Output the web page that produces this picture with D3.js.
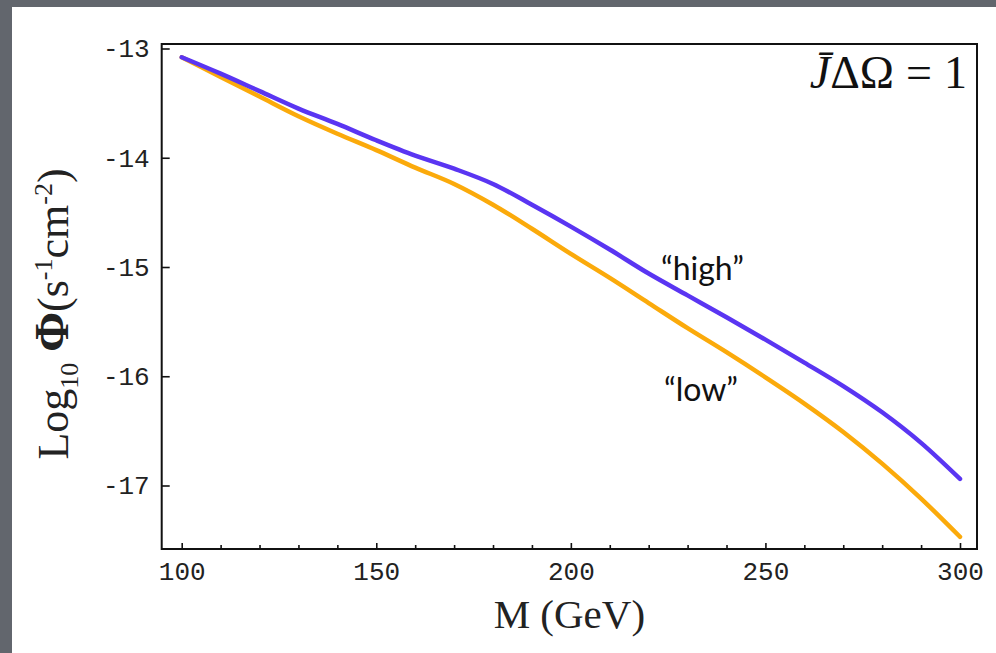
<html>
<head>
<style>
body { margin: 0; background: #62666d; }
.tick text { font-family: "Liberation Mono", monospace; font-size: 26px; fill: #222; }
.tick line { stroke: #111; stroke-width: 1.6px; }
.curve { fill: none; stroke-width: 4.5px; stroke-linejoin: round; stroke-linecap: round; }
</style>
</head>
<body>
<svg width="996" height="653"></svg>
<script src="https://d3js.org/d3.v7.min.js"></script>
<script>
// masses (GeV)
var mass = [100, 110, 120, 130, 140, 150, 160, 170, 180, 190, 200,
            210, 220, 230, 240, 250, 260, 270, 280, 290, 300]
// log10 flux, "high" case
var fluxHigh = [-13.08, -13.23, -13.39, -13.55, -13.69, -13.84, -13.98, -14.10, -14.24, -14.43, -14.63,
                -14.84, -15.06, -15.26, -15.46, -15.665, -15.875, -16.09, -16.33, -16.61, -16.94]
// log10 flux, "low" case
var fluxLow = [-13.08, -13.26, -13.44, -13.62, -13.78, -13.93, -14.09, -14.24, -14.43, -14.65, -14.88,
               -15.10, -15.33, -15.56, -15.78, -16.01, -16.25, -16.51, -16.80, -17.12, -17.47]

var xMajor = [100, 150, 200, 250, 300]
var xMinor = [110, 120, 130, 140, 160, 170, 180, 190, 210, 220, 230, 240, 260, 270, 280, 290]
var yMajor = [-13, -14, -15, -16, -17]

const svg = d3.select('svg')

// slide background and white panel
svg.append('rect').attr('width', 996).attr('height', 653).attr('fill', '#62666d')
svg.append('rect').attr('x', 12).attr('y', 7).attr('width', 984).attr('height', 646).attr('fill', '#fff')

const frame = { left: 161.7, right: 977, top: 44, bottom: 549 }

const x = d3.scaleLinear().domain([100, 300]).range([181.7, 960])
const y = d3.scaleLinear().domain([-13, -17]).range([48.5, 485.5])

const line = d3.line()
    .x(function (d) { return x(d[0]) })
    .y(function (d) { return y(d[1]) })
    .curve(d3.curveMonotoneX)

svg.append('path')
    .datum(d3.zip(mass, fluxLow))
    .attr('class', 'curve')
    .attr('stroke', '#fbaa0b')
    .attr('d', line)

svg.append('path')
    .datum(d3.zip(mass, fluxHigh))
    .attr('class', 'curve')
    .attr('stroke', '#5a35f2')
    .attr('d', line)

// axes, ticks pointing inwards
const gx = svg.append('g')
    .attr('transform', 'translate(0,' + frame.bottom + ')')
    .call(d3.axisBottom(x).tickValues(xMajor).tickSize(-6).tickPadding(13).tickFormat(d3.format('d')))
gx.append('g').call(d3.axisBottom(x).tickValues(xMinor).tickSize(-4).tickFormat(''))
gx.selectAll('.domain').remove()

const gy = svg.append('g')
    .attr('transform', 'translate(' + frame.left + ',0)')
    .call(d3.axisLeft(y).tickValues(yMajor).tickSize(-8).tickPadding(12).tickFormat(function (d) { return '-' + Math.abs(d) }))
gy.selectAll('.domain').remove()

svg.append('rect')
    .attr('x', frame.left).attr('y', frame.top)
    .attr('width', frame.right - frame.left).attr('height', frame.bottom - frame.top)
    .attr('fill', 'none').attr('stroke', '#111').attr('stroke-width', 2)

// axis titles
svg.append('text')
    .attr('x', (frame.left + frame.right) / 2).attr('y', 628)
    .attr('text-anchor', 'middle')
    .style('font-family', '"Liberation Serif", serif').style('font-size', '41px').attr('fill', '#222')
    .text('M (GeV)')

const yt = svg.append('text')
    .attr('transform', 'translate(68,314) rotate(-90)')
    .attr('text-anchor', 'middle')
    .style('font-family', '"Liberation Serif", serif').style('font-size', '44px').attr('fill', '#222')
yt.append('tspan').text('Log')
yt.append('tspan').attr('dy', 10).style('font-size', '26px').text('10')
yt.append('tspan').attr('dy', -10).text(' ')
yt.append('tspan').style('font-weight', 'bold').style('font-size', '48px').text('Φ')
yt.append('tspan').text('(s')
yt.append('tspan').attr('dy', -16).style('font-size', '26px').text('-1')
yt.append('tspan').attr('dy', 16).text('cm')
yt.append('tspan').attr('dy', -16).style('font-size', '26px').text('-2')
yt.append('tspan').attr('dy', 16).text(')')

// J-bar Delta Omega = 1
const jt = svg.append('text')
    .attr('x', 967).attr('y', 88)
    .attr('text-anchor', 'end')
    .style('font-family', '"Liberation Serif", serif').style('font-size', '46px').attr('fill', '#111')
jt.append('tspan').style('font-style', 'italic').text('J\u0304')
jt.append('tspan').text('ΔΩ')
jt.append('tspan').attr('dx', 12).text('=')
jt.append('tspan').attr('dx', 12).text('1')

// curve labels
svg.append('text').attr('x', 661).attr('y', 280)
    .style('font-family', 'Lato, sans-serif').style('font-size', '32px').attr('fill', '#111')
    .text('“high”')
svg.append('text').attr('x', 664).attr('y', 401)
    .style('font-family', 'Lato, sans-serif').style('font-size', '32px').attr('fill', '#111')
    .text('“low”')
</script>
</body>
</html>
